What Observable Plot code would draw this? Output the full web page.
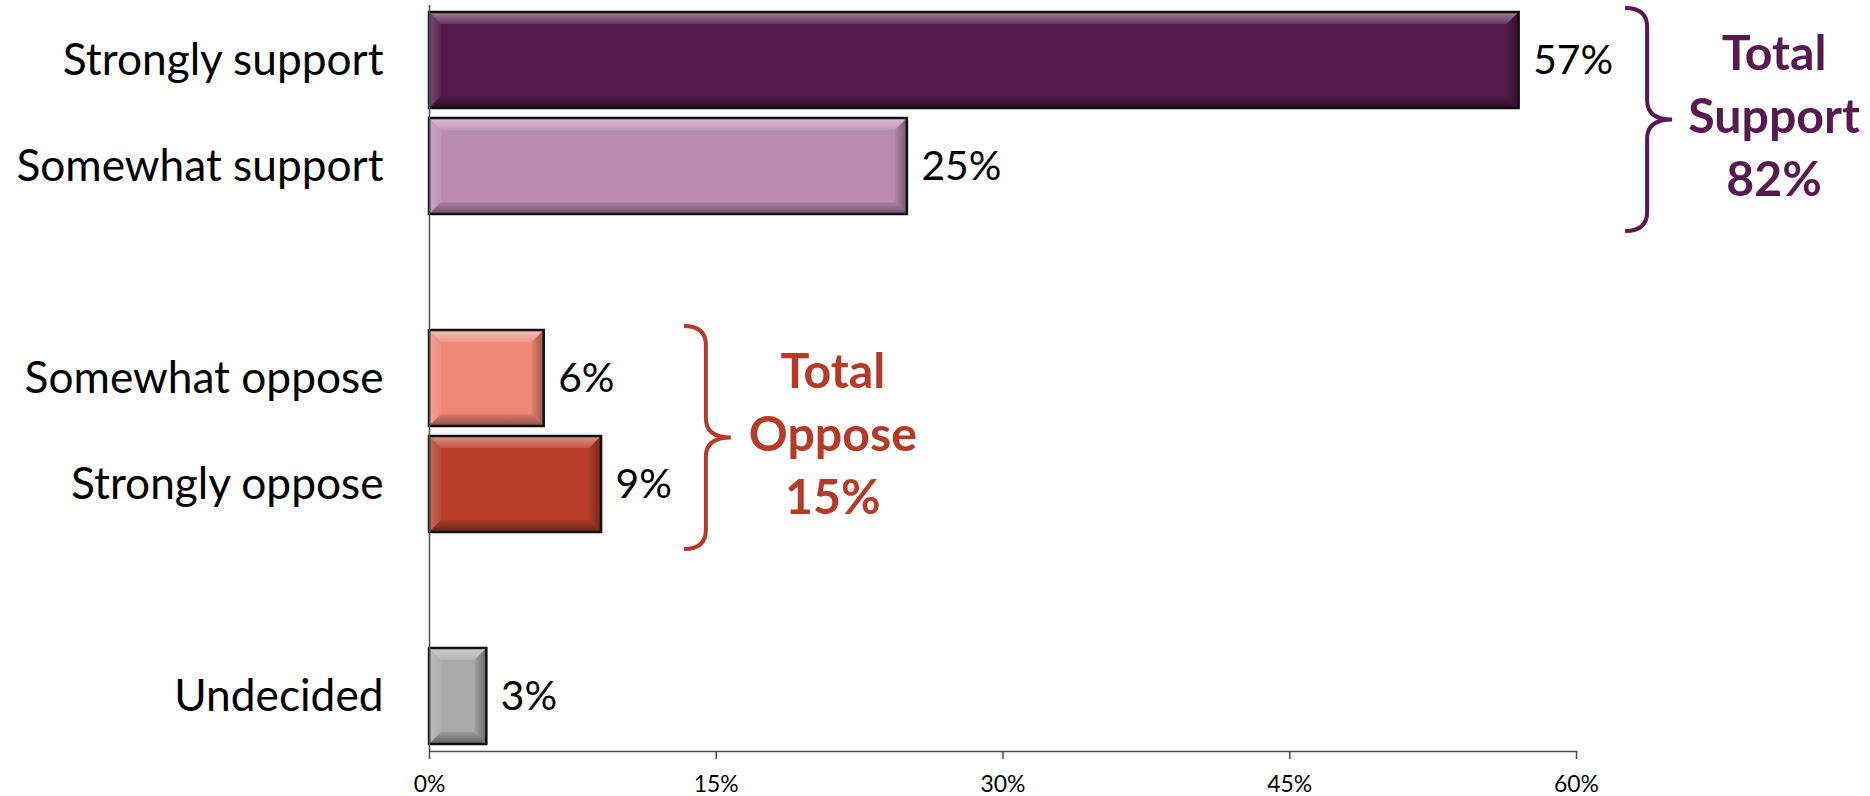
<!DOCTYPE html>
<html><head><meta charset="utf-8">
<script src="https://cdn.jsdelivr.net/npm/d3@7"></script>
<script src="https://cdn.jsdelivr.net/npm/@observablehq/plot@0.6"></script>
<style>html,body{margin:0;padding:0;background:#fff;} #chart svg{display:block}</style>
</head><body><div id="chart"></div>
<script>
// ---- data ----
const categories = ["Strongly support","Somewhat support","Somewhat oppose","Strongly oppose","Undecided"];
const values = [57, 25, 6, 9, 3];
const groupNames = ["Support", "Oppose"];
const groupTotals = [82, 15];
const groupMembers = [["Strongly support","Somewhat support"],["Somewhat oppose","Strongly oppose"]];
const xTicks = [0, 15, 30, 45, 60];

// ---- styles ----
const barColors = ["#531a4b","#bc8bb2","#f08878","#ba3f2b","#aaaaaa"];
const groupColors = ["#561a4e","#b53b29"];
const axisColor = "#4d4d4d";

const ctx = document.createElement("canvas").getContext("2d");
function fit(text, target, weight = "normal", base = 100) {
  ctx.font = `${weight} ${base}px Lato`;
  return base * target / ctx.measureText(text).width;
}
const labelSize = fit("Somewhat oppose", 359);
const valueSize = fit("57%", 80);
const tickFont = fit("60%", 45);
const groupSize = (fit("Support", 173, "bold") + fit("Oppose", 167, "bold")) / 2;

const slots = [categories[0], categories[1], "gap1", categories[2], categories[3], "gap2", categories[4]];
const data = categories.map((c, i) => ({category: c, value: values[i]}));

const chart = Plot.plot({
  width: 1870, height: 796,
  marginLeft: 429, marginRight: 294, marginTop: 5, marginBottom: 45,
  style: {fontFamily: "Lato, sans-serif", background: "#fff", color: "#000", overflow: "visible"},
  x: {domain: [0, 60]},
  y: {domain: slots, paddingInner: 0.09, paddingOuter: 0.05},
  color: {domain: categories, range: barColors},
  marks: [
    Plot.barX(data, {x: "value", y: "category", fill: "category", className: "bars"}),
    Plot.text(data, {x: "value", y: "category", text: d => d.value + "%", textAnchor: "start", dx: 14,
      fontSize: valueSize, fill: "#000", className: "vlabels"}),
    Plot.ruleX([0], {stroke: axisColor, strokeWidth: 1.5}),
    Plot.frame({anchor: "bottom", stroke: axisColor, strokeWidth: 1.5}),
    Plot.axisX(xTicks, {tickSize: 8, tickPadding: 16, tickFormat: d => d + "%", fontSize: tickFont,
      stroke: axisColor, strokeWidth: 1.5, fill: "#000", label: null}),
    Plot.axisY(categories, {tickSize: 0, tickPadding: 46, fontSize: labelSize, fill: "#000", label: null})
  ]
});
document.getElementById("chart").appendChild(chart);

// ---- decorations derived from the rendered marks & scales ----
const svg = d3.select(chart);
const yScale = chart.scale("y");
const ys = v => yScale.apply(v);
const bw = yScale.bandwidth;
const defs = svg.insert("defs", ":first-child");
function grad(id, x2, y2, color, o1, o2) {
  const g = defs.append("linearGradient").attr("id", id)
    .attr("x1", 0).attr("y1", 0).attr("x2", x2).attr("y2", y2);
  g.append("stop").attr("offset", 0).attr("stop-color", color).attr("stop-opacity", o1);
  g.append("stop").attr("offset", 1).attr("stop-color", color).attr("stop-opacity", o2);
}
grad("bvTop", 0, 1, "#fff", 0.45, 0.12);
grad("bvLeft", 1, 0, "#fff", 0.22, 0.05);
grad("bvBottom", 0, 1, "#000", 0.08, 0.42);
grad("bvRight", 1, 0, "#000", 0.05, 0.38);

svg.selectAll("g.bars rect").each(function() {
  const bb = this.getBBox();
  const x = bb.x, y = bb.y, w = bb.width, h = bb.height;
  const b = Math.min(12, w / 2, h / 2);
  const p = d3.select(this.parentNode);
  const poly = (pts, f) => p.append("polygon").attr("points", pts.map(q => q.join(",")).join(" ")).attr("fill", f);
  poly([[x, y], [x + w, y], [x + w - b, y + b], [x + b, y + b]], "url(#bvTop)");
  poly([[x, y], [x + b, y + b], [x + b, y + h - b], [x, y + h]], "url(#bvLeft)");
  poly([[x, y + h], [x + b, y + h - b], [x + w - b, y + h - b], [x + w, y + h]], "url(#bvBottom)");
  poly([[x + w, y], [x + w, y + h], [x + w - b, y + h - b], [x + w - b, y + b]], "url(#bvRight)");
  p.append("rect").attr("x", x).attr("y", y).attr("width", w).attr("height", h)
    .attr("fill", "none").attr("stroke", "#111").attr("stroke-width", 2.5);
});

const svgRect = chart.getBoundingClientRect();
const labelNodes = svg.selectAll("g.vlabels text").nodes();
groupMembers.forEach((members, gi) => {
  const idx = members.map(m => categories.indexOf(m));
  const maxI = idx.reduce((a, b) => values[b] > values[a] ? b : a);
  const lr = labelNodes[maxI].getBoundingClientRect();
  const start = ys(members[0]);
  const end = ys(members[members.length - 1]) + bw;
  const top = start - 4, bot = end + 17, mid = (top + bot) / 2;
  const L = lr.right - svgRect.left + 12, M = L + 22, T = L + 47, r = 19;
  const color = groupColors[gi];
  svg.append("path")
    .attr("d", `M${L},${top} Q${M},${top} ${M},${top + r} L${M},${mid - r} Q${M},${mid} ${T},${mid} Q${M},${mid} ${M},${mid + r} L${M},${bot - r} Q${M},${bot} ${L},${bot}`)
    .attr("fill", "none").attr("stroke", color).attr("stroke-width", 4);
  const cx = T + 102, base = (start + end) / 2 + 20;
  const lines = ["Total", groupNames[gi], groupTotals[gi] + "%"];
  lines.forEach((t, li) => {
    svg.append("text").attr("x", cx).attr("y", base + (li - 1) * 63)
      .attr("text-anchor", "middle").attr("font-family", "Lato, sans-serif")
      .attr("font-weight", "bold").attr("font-size", groupSize).attr("fill", color).text(t);
  });
});
</script>
</body></html>
